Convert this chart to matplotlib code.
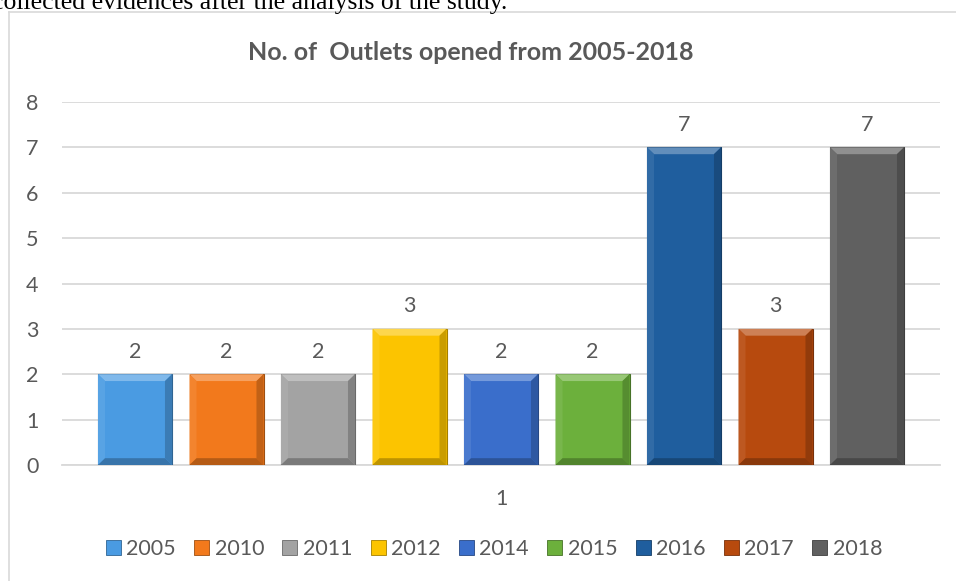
import numpy as np
import matplotlib
matplotlib.use('Agg')
import matplotlib.pyplot as plt
from matplotlib.patches import Polygon, Patch
from matplotlib.lines import Line2D
from matplotlib.colors import to_rgb

# data
years = ['2005', '2010', '2011', '2012', '2014', '2015', '2016', '2017', '2018']
outlets = [2, 2, 2, 3, 2, 2, 7, 3, 7]
category = '1'
colors = ['#4a9be2', '#f2791c', '#a3a3a3', '#fcc400', '#3a6ecb',
          '#6cb03c', '#1f5e9e', '#b74a0e', '#606060']

title = 'No. of  Outlets opened from 2005-2018'
txt_col = '#595959'


def shade(c, f):
    r = np.array(to_rgb(c))
    if f > 0:
        return tuple(r + (1 - r) * f)
    return tuple(r * (1 + f))


fig = plt.figure(figsize=(9.56, 5.81), dpi=100)

# text of the page above the chart (cut at the top)
fig.text(-0.008, 0.984, 'collected evidences after the analysis of the study.',
         family='Liberation Serif', fontsize=18.5, color='black', va='baseline')

# chart frame
fig.add_artist(Line2D([9 / 956, 1.0], [1 - 12 / 581, 1 - 12 / 581],
                      color='#d9d9d9', lw=1.2, transform=fig.transFigure))
fig.add_artist(Line2D([9 / 956, 9 / 956], [0.0, 1 - 12 / 581],
                      color='#d9d9d9', lw=1.2, transform=fig.transFigure))

ax = fig.add_axes([62 / 956, 116 / 581, 878 / 956, 363 / 581])

step = 91.5 / 878
width = 74 / 878
n = len(years)
xs = [(i - (n - 1) / 2) * step for i in range(n)]

bx = 0.008   # bevel size in data units
by = 0.15
for x, v, c in zip(xs, outlets, colors):
    l, r = x - width / 2, x + width / 2
    ax.bar(x, v, width, color=c, edgecolor=shade(c, -0.35), lw=0.8, zorder=3)
    # bevel faces
    ax.add_patch(Polygon([(l, v), (r, v), (r - bx, v - by), (l + bx, v - by)],
                         closed=True, color=shade(c, 0.3), lw=0, zorder=4))
    ax.add_patch(Polygon([(l, 0), (l, v), (l + bx, v - by), (l + bx, by)],
                         closed=True, color=shade(c, 0.08), lw=0, zorder=4))
    ax.add_patch(Polygon([(r, 0), (r, v), (r - bx, v - by), (r - bx, by)],
                         closed=True, color=shade(c, -0.2), lw=0, zorder=4))
    ax.add_patch(Polygon([(l, 0), (r, 0), (r - bx, by), (l + bx, by)],
                         closed=True, color=shade(c, -0.25), lw=0, zorder=4))
    ax.annotate(str(v), (x, v), xytext=(0, 9), textcoords='offset points',
                ha='center', va='bottom', fontsize=15.5, family='Lato', color=txt_col)

ax.set_xlim(-0.5, 0.5)
ax.set_ylim(0, 8)
ax.set_yticks(range(0, 9))
ax.set_xticks([0])
ax.set_xticklabels([category])
ax.tick_params(length=0, labelsize=15.5, labelcolor=txt_col)
ax.tick_params(axis='x', pad=17)
ax.tick_params(axis='y', pad=26)
for lab in ax.get_xticklabels() + ax.get_yticklabels():
    lab.set_family('Lato')
for lab in ax.get_yticklabels():
    lab.set_horizontalalignment('left')
ax.grid(axis='y', color='#d9d9d9', lw=1.3, zorder=0)
for s in ['top', 'right', 'left']:
    ax.spines[s].set_visible(False)
ax.spines['bottom'].set_color('#d9d9d9')
ax.spines['bottom'].set_linewidth(1.3)

fig.text(471 / 956, 1 - 52 / 581, title, fontsize=18, fontweight='bold',
         family='Lato', color=txt_col, ha='center', va='center')

handles = [Patch(facecolor=c, edgecolor=shade(c, -0.35), lw=0.6) for c in colors]
fig.legend(handles, years, loc='center', bbox_to_anchor=(494 / 956, 0.055), ncol=n,
           frameon=False, handlelength=0.7, handleheight=0.7, handletextpad=0.25,
           columnspacing=0.85, prop={'family': 'Lato', 'size': 15.5},
           labelcolor=txt_col)

fig.savefig('out.png', dpi=100)
